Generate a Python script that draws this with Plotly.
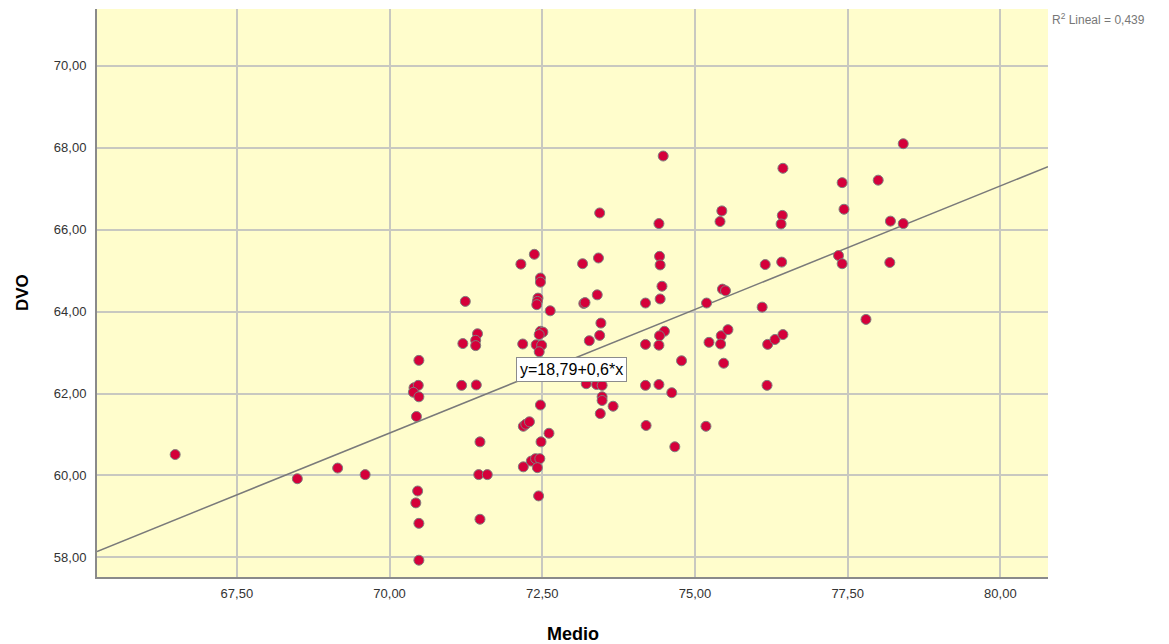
import plotly.graph_objects as go

# ---- data ----
medio = [
    66.49, 68.49, 69.15, 69.60,
    70.48, 70.40, 70.47, 70.39, 70.48, 70.44, 70.46, 70.43, 70.48, 70.48,
    71.24, 71.20, 71.44, 71.41, 71.41, 71.18, 71.42, 71.48, 71.46, 71.60, 71.48,
    72.37, 72.15, 72.47, 72.47, 72.43, 72.42, 72.41, 72.63, 72.47, 72.51, 72.45,
    72.18, 72.40, 72.49, 72.45, 72.47, 72.19, 72.23, 72.29, 72.61, 72.48, 72.19,
    72.32, 72.39, 72.46, 72.42, 72.44,
    73.16, 73.42, 73.44, 73.18, 73.20, 73.40, 73.46, 73.44, 73.27, 73.22, 73.39,
    73.48, 73.48, 73.48, 73.66, 73.45,
    74.48, 74.41, 74.42, 74.43, 74.46, 74.43, 74.19, 74.50, 74.42, 74.19, 74.41,
    74.78, 74.19, 74.41, 74.62, 74.20, 74.67,
    75.44, 75.41, 75.45, 75.50, 75.19, 75.23, 75.43, 75.54, 75.42, 75.47, 75.18,
    76.44, 76.43, 76.41, 76.15, 76.42, 76.10, 76.19, 76.31, 76.44, 76.18,
    77.41, 78.00, 78.41, 77.44, 78.20, 78.41, 77.35, 77.41, 78.19, 77.80,
]
dvo = [
    60.51, 59.92, 60.18, 60.02,
    62.81, 62.14, 62.20, 62.03, 61.92, 61.44, 59.62, 59.33, 58.83, 57.93,
    64.25, 63.22, 63.46, 63.30, 63.17, 62.20, 62.21, 60.82, 60.02, 60.02, 58.93,
    65.40, 65.16, 64.82, 64.72, 64.33, 64.25, 64.17, 64.02, 63.52, 63.50, 63.44,
    63.21, 63.19, 63.18, 63.02, 61.72, 61.20, 61.25, 61.31, 61.03, 60.82, 60.21,
    60.35, 60.41, 60.41, 60.19, 59.50,
    65.17, 65.31, 66.41, 64.20, 64.22, 64.41, 63.72, 63.42, 63.29, 62.24, 62.22,
    62.20, 61.92, 61.83, 61.69, 61.51,
    67.80, 66.15, 65.35, 65.14, 64.62, 64.31, 64.21, 63.52, 63.41, 63.20, 63.18,
    62.80, 62.20, 62.22, 62.02, 61.22, 60.70,
    66.46, 66.20, 64.55, 64.51, 64.21, 63.25, 63.41, 63.56, 63.21, 62.74, 61.20,
    67.50, 66.35, 66.14, 65.15, 65.21, 64.11, 63.20, 63.32, 63.44, 62.20,
    67.15, 67.21, 68.10, 66.50, 66.21, 66.15, 65.37, 65.17, 65.20, 63.81,
]

x_tick_vals = [67.5, 70.0, 72.5, 75.0, 77.5, 80.0]
x_tick_text = ["67,50", "70,00", "72,50", "75,00", "77,50", "80,00"]
y_tick_vals = [58, 60, 62, 64, 66, 68, 70]
y_tick_text = ["58,00", "60,00", "62,00", "64,00", "66,00", "68,00", "70,00"]

x_title = "Medio"
y_title = "DVO"
fit_intercept = 18.79
fit_slope = 0.6035
fit_label = "y=18,79+0,6*x"
r2_label = "R<sup>2</sup> Lineal = 0,439"

x_range = [65.21, 80.78]
y_range = [57.52, 71.39]

FONT = "Liberation Sans, Arial, sans-serif"

fig = go.Figure()

fit_x = x_range
fit_y = [fit_intercept + fit_slope * v for v in fit_x]
fig.add_trace(go.Scatter(
    x=fit_x, y=fit_y, mode="lines",
    line=dict(color="#7a7a7a", width=1.5),
    hoverinfo="skip", showlegend=False,
))

fig.add_trace(go.Scatter(
    x=medio, y=dvo, mode="markers",
    marker=dict(size=10, color="#d5003a",
                line=dict(color="#7f7f7f", width=1)),
    showlegend=False,
))

fig.add_annotation(
    x=72.98, y=62.59, xref="x", yref="y", text=fit_label,
    showarrow=False, font=dict(family=FONT, size=16, color="#000000"),
    bgcolor="#ffffff", bordercolor="#8c8c8c", borderwidth=1, borderpad=3,
)
fig.add_annotation(
    x=1.002, y=1.0, xref="paper", yref="paper", text=r2_label,
    xanchor="left", yanchor="top", showarrow=False,
    font=dict(family=FONT, size=12, color="#777777"),
)
# axis titles
fig.add_annotation(
    x=0.5, y=0, xref="paper", yref="paper", text="<b>%s</b>" % x_title,
    xanchor="center", yanchor="middle", yshift=-57, showarrow=False,
    font=dict(family=FONT, size=18, color="#000000"),
)
fig.add_annotation(
    x=0, y=0.5, xref="paper", yref="paper", text="<b>%s</b>" % y_title,
    xanchor="center", yanchor="middle", xshift=-75, textangle=-90, showarrow=False,
    font=dict(family=FONT, size=17, color="#000000"),
)

# page has an 8px body margin, so the figure is sized to fit inside the window
fig.update_layout(
    width=1153, height=636,
    margin=dict(l=89, r=113, t=1, b=67),
    paper_bgcolor="#ffffff",
    plot_bgcolor="#fffdcc",
    font=dict(family=FONT, size=13, color="#333333"),
    xaxis=dict(
        range=x_range, tickvals=x_tick_vals, ticktext=x_tick_text,
        showgrid=True, gridcolor="#c8c8c0", gridwidth=1.5,
        zeroline=False, showline=True, linecolor="#8a8a8a", linewidth=2,
        ticks="", ticklabelstandoff=3, automargin=False,
    ),
    yaxis=dict(
        range=y_range, tickvals=y_tick_vals, ticktext=y_tick_text,
        showgrid=True, gridcolor="#c8c8c0", gridwidth=1.5,
        zeroline=False, showline=True, linecolor="#8a8a8a", linewidth=2,
        ticks="", ticklabelstandoff=6, automargin=False,
    ),
)

fig.write_html("out.html")
